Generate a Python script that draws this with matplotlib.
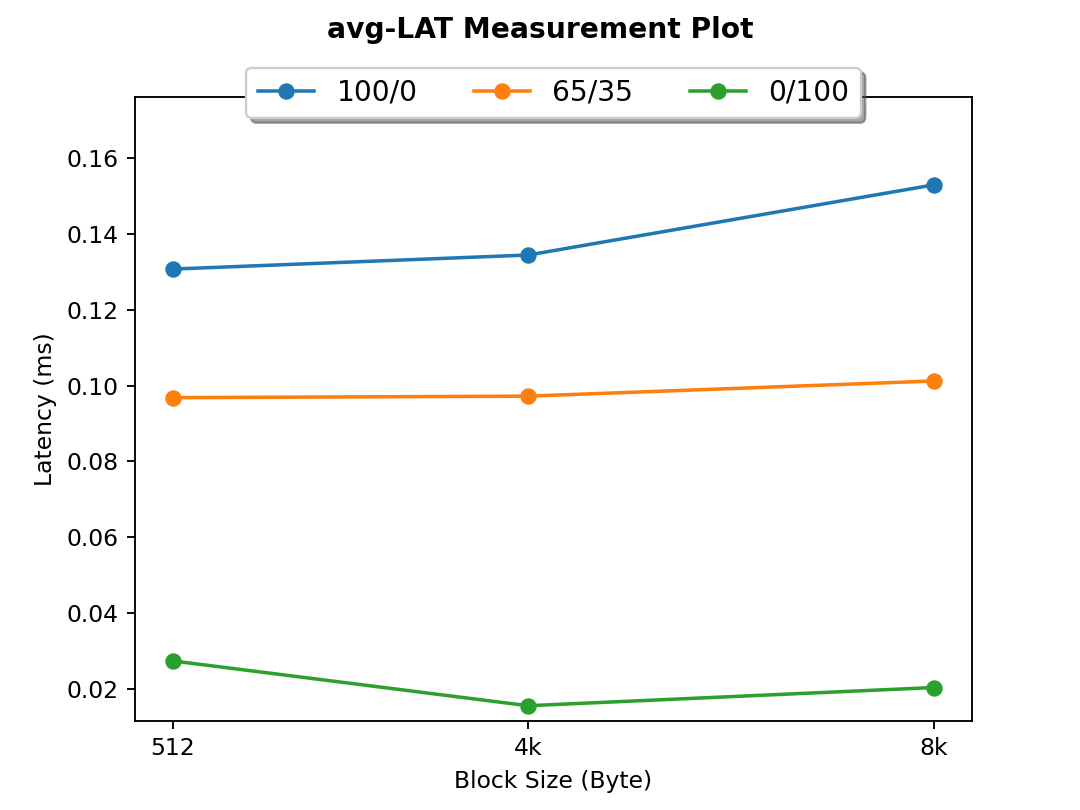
import matplotlib
matplotlib.use("Agg")
import matplotlib.pyplot as plt

block_sizes = [512, 4096, 8192]
tick_labels = ["512", "4k", "8k"]
series_names = ["100/0", "65/35", "0/100"]
lat_100_0 = [0.1307, 0.1344, 0.1529]
lat_65_35 = [0.0968, 0.0972, 0.1012]
lat_0_100 = [0.0274, 0.0156, 0.0204]

fig, ax = plt.subplots(figsize=(6.4, 4.8), dpi=168.75)
for name, vals in zip(series_names, [lat_100_0, lat_65_35, lat_0_100]):
    ax.plot(block_sizes, vals, marker="o", label=name)

ax.set_xticks(block_sizes)
ax.set_xticklabels(tick_labels)
ax.set_ylim(0.0116, 0.1760)
ax.set_xlabel("Block Size (Byte)")
ax.set_ylabel("Latency (ms)")
fig.suptitle("avg-LAT Measurement Plot", fontweight="bold")
ax.legend(loc="upper center", bbox_to_anchor=(0.5, 1.07), ncol=3,
          fancybox=True, shadow=True, fontsize="large")
fig.savefig("out.png")
